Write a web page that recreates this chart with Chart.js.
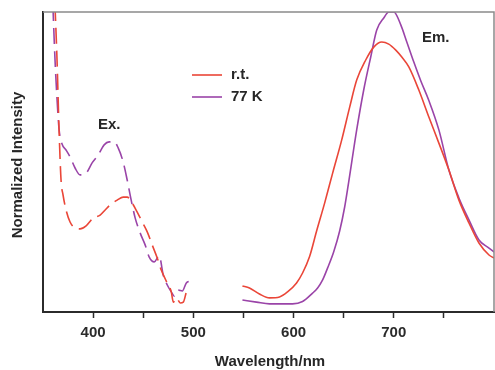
<!DOCTYPE html>
<html>
<head>
<meta charset="utf-8">
<script src="https://cdn.jsdelivr.net/npm/chart.js@4/dist/chart.umd.min.js"></script>
<style>
  html, body { margin: 0; padding: 0; background: #fff; }
  #wrap { width: 495px; height: 370px; position: relative; }
</style>
</head>
<body>
<div id="wrap"><canvas id="spectra"></canvas></div>
<script>
// excitation spectra (dashed), wavelength in nm / normalized intensity
let exRtWave = [361, 364, 366, 368, 370, 373, 377, 382, 387, 393, 400, 407, 412, 417, 424, 430, 434, 439, 444, 449, 454, 459, 464, 468, 473, 478, 480, 483, 487, 490, 493];
let exRtVal  = [1.1, 0.84, 0.61, 0.44, 0.39, 0.34, 0.30, 0.28, 0.277, 0.287, 0.313, 0.323, 0.34, 0.357, 0.373, 0.383, 0.383, 0.363, 0.333, 0.30, 0.267, 0.223, 0.18, 0.14, 0.103, 0.067, 0.033, 0.047, 0.03, 0.033, 0.067];

let ex77Wave = [359, 362, 364, 366, 369, 373, 377, 382, 387, 393, 399, 405, 411, 416, 421, 425, 430, 434, 438, 442, 447, 452, 456, 461, 466, 470, 474, 478, 481, 485, 489, 493, 497, 499];
let ex77Val  = [1.1, 0.84, 0.71, 0.61, 0.56, 0.54, 0.517, 0.48, 0.457, 0.463, 0.497, 0.523, 0.557, 0.567, 0.567, 0.547, 0.50, 0.44, 0.373, 0.313, 0.263, 0.223, 0.183, 0.167, 0.187, 0.123, 0.09, 0.067, 0.053, 0.073, 0.07, 0.097, 0.103, 0.107];

// emission spectra (solid)
let emRtWave = [549, 556, 566, 576, 586, 594, 603, 609, 616, 623, 631, 639, 648, 656, 663, 672, 680, 688, 695, 702, 708, 715, 725, 735, 745, 755, 765, 775, 785, 795, 800];
let emRtVal  = [0.087, 0.08, 0.06, 0.047, 0.05, 0.067, 0.097, 0.13, 0.185, 0.27, 0.363, 0.463, 0.573, 0.683, 0.773, 0.84, 0.883, 0.9, 0.893, 0.873, 0.85, 0.817, 0.74, 0.65, 0.563, 0.473, 0.373, 0.297, 0.23, 0.19, 0.18];

let em77Wave = [549, 563, 576, 599, 609, 619, 624, 629, 634, 640, 646, 651, 655, 663, 670, 677, 683, 690, 695, 700, 707, 713, 720, 727, 735, 745, 755, 765, 775, 785, 795, 800];
let em77Val  = [0.04, 0.033, 0.027, 0.027, 0.035, 0.063, 0.08, 0.107, 0.147, 0.2, 0.27, 0.35, 0.433, 0.607, 0.74, 0.85, 0.94, 0.98, 1.0, 1.0, 0.957, 0.9, 0.833, 0.77, 0.705, 0.607, 0.473, 0.38, 0.307, 0.24, 0.213, 0.2];

let seriesNames = ["r.t.", "77 K"];
let xTicks = [400, 500, 600, 700];

const red = "#ea4638";
const purple = "#9a44a8";

// pair up wavelength + value arrays
toPoints = (wave, val) => wave.map((w, i) => ({ x: w, y: val[i] }));

// legend, labels and frame drawn on top
const extras = {
  id: "extras",
  afterDraw(chart) {
    const c = chart.ctx;
    const a = chart.chartArea;
    c.save();
    // top + right frame
    c.strokeStyle = "#8a8a8a";
    c.lineWidth = 1.5;
    c.beginPath();
    c.moveTo(a.left, a.top);
    c.lineTo(a.right, a.top);
    c.lineTo(a.right, a.bottom);
    c.stroke();

    c.font = "bold 15px 'Liberation Sans', Arial, sans-serif";
    c.fillStyle = "#262626";
    c.textBaseline = "middle";

    // legend
    c.lineWidth = 1.6;
    c.strokeStyle = red;
    c.beginPath(); c.moveTo(192, 75); c.lineTo(222, 75); c.stroke();
    c.strokeStyle = purple;
    c.beginPath(); c.moveTo(192, 97); c.lineTo(222, 97); c.stroke();
    c.textAlign = "left";
    c.fillText(seriesNames[0], 231, 75);
    c.fillText(seriesNames[1], 231, 97);

    // band labels
    c.fillText("Ex.", 98, 125);
    c.fillText("Em.", 422, 38);

    // axis titles
    c.textAlign = "center";
    c.fillText("Wavelength/nm", 270, 362);
    c.translate(18, 165);
    c.rotate(-Math.PI / 2);
    c.fillText("Normalized Intensity", 0, 0);
    c.restore();
  }
};

new Chart(document.getElementById("spectra"), {
  type: "line",
  data: {
    datasets: [
      { label: "ex r.t.", data: toPoints(exRtWave, exRtVal), borderColor: red, borderDash: [16, 7] },
      { label: "ex 77 K", data: toPoints(ex77Wave, ex77Val), borderColor: purple, borderDash: [16, 7] },
      { label: seriesNames[0], data: toPoints(emRtWave, emRtVal), borderColor: red },
      { label: seriesNames[1], data: toPoints(em77Wave, em77Val), borderColor: purple }
    ]
  },
  options: {
    responsive: true,
    maintainAspectRatio: false,
    animation: false,
    layout: { padding: { top: 12, right: 1 } },
    elements: {
      point: { radius: 0 },
      line: { borderWidth: 1.6, cubicInterpolationMode: "monotone", fill: false }
    },
    plugins: { legend: { display: false }, tooltip: { enabled: false } },
    scales: {
      x: {
        type: "linear",
        min: 350,
        max: 800,
        afterFit: (s) => { s.height = 58; s.paddingLeft = 0; s.paddingRight = 0; },
        border: { color: "#2b2b2b", width: 2 },
        grid: {
          drawOnChartArea: false,
          tickLength: 6,
          tickWidth: 1.5,
          color: (ctx) => (ctx.tick && (ctx.tick.value === 350 || ctx.tick.value === 800)) ? "rgba(0,0,0,0)" : "#2b2b2b"
        },
        ticks: {
          stepSize: 50,
          padding: 6,
          color: "#2b2b2b",
          font: { family: "'Liberation Sans', Arial, sans-serif", size: 15, weight: "bold" },
          callback: (v) => xTicks.includes(v) ? String(v) : ""
        }
      },
      y: {
        min: 0,
        max: 1,
        afterFit: (s) => { s.width = 43; },
        border: { color: "#2b2b2b", width: 2 },
        grid: { display: false },
        ticks: { display: false }
      }
    }
  },
  plugins: [extras]
});
</script>
</body>
</html>
